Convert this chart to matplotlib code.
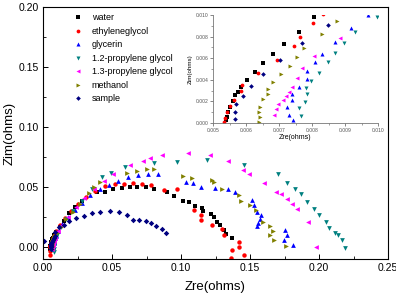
import matplotlib
matplotlib.use("Agg")
import matplotlib.pyplot as plt
from matplotlib.ticker import MultipleLocator, FormatStrFormatter

plt.rcParams['font.family'] = ['Liberation Sans', 'DejaVu Sans']

# ---------------- data (Zre, Zim in ohms) ----------------
water_x = [0.0054, 0.00540, 0.00541, 0.00544, 0.00550, 0.00560, 0.00568, 0.00577, 0.00585, 0.00602,
           0.00627, 0.00650, 0.00683, 0.00714, 0.00761, 0.00805, 0.0095, 0.012, 0.015, 0.019, 0.023,
           0.028, 0.0389, 0.0449, 0.0505, 0.057, 0.063, 0.0684, 0.0746, 0.0807, 0.0896, 0.0952, 0.1012,
           0.1058, 0.1101, 0.115, 0.1162, 0.1217, 0.1239, 0.1263, 0.1283, 0.1312, 0.1324, 0.1372]
water_y = [-0.002, 0.00025, 0.00060, 0.00103, 0.00150, 0.00200, 0.00256, 0.00290, 0.00336, 0.00398,
           0.00475, 0.00552, 0.00636, 0.00731, 0.00840, 0.00979, 0.0125, 0.017, 0.022, 0.028, 0.033,
           0.0383, 0.0456, 0.0461, 0.0481, 0.049, 0.050, 0.0503, 0.0497, 0.0481, 0.0461, 0.0425, 0.0386,
           0.0372, 0.0344, 0.0322, 0.0300, 0.0275, 0.0247, 0.0211, 0.0183, 0.0142, 0.0106, 0.0072]

eg_x = [0.0053, 0.0054, 0.00533, 0.00536, 0.00542, 0.00550, 0.00563, 0.00585, 0.00589, 0.00636, 0.00693,
        0.00746, 0.00764, 0.00803, 0.00834, 0.0095, 0.012, 0.016, 0.020, 0.025, 0.031, 0.038, 0.045,
        0.0522, 0.0587, 0.065, 0.0715, 0.0783, 0.0877, 0.0973, 0.1096, 0.1145, 0.1145, 0.1222, 0.1295,
        0.1312, 0.142, 0.1423, 0.1372, 0.1459, 0.136]
eg_y = [-0.003, -0.0065, 0.0001, 0.0005, 0.0010, 0.00157, 0.0021, 0.00299, 0.00352, 0.00466, 0.00580,
        0.00716, 0.00793, 0.00926, 0.01009, 0.013, 0.018, 0.024, 0.030, 0.036, 0.042, 0.047, 0.051,
        0.0525, 0.0528, 0.0536, 0.0522, 0.0517, 0.0475, 0.0481, 0.0308, 0.0267, 0.0225, 0.0183, 0.0147,
        0.0100, 0.0044, -0.0003, -0.0025, -0.0067, -0.0094]

gly_x = [0.0074, 0.00742, 0.00731, 0.00723, 0.00740, 0.00738, 0.00761, 0.00784, 0.00786, 0.00809, 0.00830,
         0.00870, 0.00918, 0.00968, 0.011, 0.014, 0.018, 0.023, 0.028, 0.034, 0.041, 0.048, 0.0546,
         0.0618, 0.0691, 0.0763, 0.0836, 0.1034, 0.1085, 0.1145, 0.1246, 0.1343, 0.1391, 0.1512, 0.1531,
         0.1548, 0.158, 0.1572, 0.156, 0.1553, 0.1754, 0.177, 0.1749, 0.1809]
gly_y = [-0.002, 0.00028, 0.00074, 0.00145, 0.00213, 0.00266, 0.0033, 0.0041, 0.00484, 0.00562, 0.00639,
         0.00747, 0.00877, 0.0100, 0.013, 0.019, 0.025, 0.031, 0.037, 0.043, 0.048, 0.052, 0.0553,
         0.0586, 0.0600, 0.0606, 0.0606, 0.0544, 0.0531, 0.0497, 0.0494, 0.0483, 0.0461, 0.0392, 0.0350,
         0.0294, 0.0267, 0.0233, 0.0203, 0.0175, 0.0142, 0.0100, 0.0058, 0.0017]

pg12_x = [0.0077, 0.0078, 0.00767, 0.00761, 0.00779, 0.00786, 0.00782, 0.00797, 0.00821, 0.00848, 0.00870,
          0.00897, 0.00930, 0.00996, 0.0105, 0.013, 0.017, 0.022, 0.028, 0.0353, 0.0425, 0.0493, 0.0594,
          0.0807, 0.0969, 0.1186, 0.1457, 0.1701, 0.1766, 0.1826, 0.187, 0.1911, 0.1964, 0.1996, 0.2049,
          0.2072, 0.2116, 0.2135, 0.2164, 0.2188]
pg12_y = [-0.002, -0.004, 0.00068, 0.00136, 0.00197, 0.00269, 0.00327, 0.00389, 0.00466, 0.00568, 0.00645,
          0.00738, 0.00840, 0.00979, 0.012, 0.017, 0.023, 0.030, 0.038, 0.0481, 0.0580, 0.0614, 0.0664,
          0.0697, 0.0711, 0.0725, 0.0683, 0.0608, 0.0536, 0.0481, 0.0442, 0.0378, 0.0317, 0.0267, 0.0211,
          0.0156, 0.0119, 0.0100, 0.0058, -0.0006]

pg13_x = [0.0068, 0.00685, 0.00690, 0.00696, 0.00711, 0.00721, 0.00730, 0.00738, 0.00754, 0.00771, 0.00807,
          0.00885, 0.011, 0.014, 0.018, 0.024, 0.030, 0.037, 0.044, 0.051, 0.063, 0.0727, 0.0775, 0.0865,
          0.1048, 0.121, 0.1343, 0.1452, 0.1495, 0.1601, 0.1686, 0.1722, 0.177, 0.1802, 0.1838, 0.1923,
          0.1976]
pg13_y = [-0.002, 0.00074, 0.0013, 0.00173, 0.00213, 0.0025, 0.0029, 0.0033, 0.0042, 0.00506, 0.00623,
          0.0079, 0.013, 0.018, 0.025, 0.033, 0.041, 0.048, 0.055, 0.0606, 0.0683, 0.0717, 0.0739, 0.0767,
          0.0781, 0.0767, 0.0717, 0.0642, 0.0608, 0.0531, 0.0461, 0.0439, 0.0400, 0.0356, 0.0317, 0.0211,
          -0.0003]

meth_x = [0.0064, 0.00639, 0.00642, 0.00639, 0.00642, 0.00652, 0.00666, 0.00668, 0.00683, 0.00706, 0.00733,
          0.00754, 0.00777, 0.00831, 0.00875, 0.0105, 0.013, 0.017, 0.022, 0.027, 0.033, 0.037, 0.0413,
          0.0606, 0.0679, 0.0751, 0.0804, 0.1012, 0.1078, 0.1222, 0.1239, 0.1295, 0.142, 0.1435, 0.150,
          0.1543, 0.1597, 0.1641, 0.1664, 0.1645, 0.1674, 0.1759]
meth_y = [-0.002, 0.00012, 0.00058, 0.00105, 0.00151, 0.00219, 0.00266, 0.00312, 0.00377, 0.00454, 0.00531,
          0.00608, 0.00697, 0.00821, 0.00944, 0.012, 0.017, 0.023, 0.029, 0.036, 0.045, 0.050, 0.0544,
          0.0614, 0.0636, 0.0647, 0.0647, 0.0594, 0.0578, 0.0558, 0.0539, 0.0481, 0.0433, 0.0386, 0.0350,
          0.0308, 0.0206, 0.0175, 0.0136, 0.0100, 0.0058, 0.0008]

sample_x = [0.0007, 0.0057, 0.00568, 0.00566, 0.00571, 0.00590, 0.00615, 0.00652, 0.00702, 0.00769, 0.00849,
            0.0087, 0.0118, 0.0152, 0.0191, 0.0237, 0.0295, 0.0357, 0.0413, 0.0486, 0.0551, 0.0606, 0.0652,
            0.0698, 0.0746, 0.0785, 0.0819, 0.0860, 0.0891]
sample_y = [0.005, -0.002, 0.00037, 0.00099, 0.00173, 0.00253, 0.00345, 0.00454, 0.00583, 0.00744, 0.00907,
            0.0128, 0.0164, 0.0183, 0.0219, 0.0242, 0.0261, 0.0281, 0.0289, 0.0297, 0.0292, 0.0269, 0.0222,
            0.0228, 0.0217, 0.0197, 0.0175, 0.0147, 0.0119]

labels = ['water', 'ethyleneglycol', 'glycerin', '1.2-propylene glycol',
          '1.3-propylene glycol', 'methanol', 'sample']
series = [(water_x, water_y), (eg_x, eg_y), (gly_x, gly_y), (pg12_x, pg12_y),
          (pg13_x, pg13_y), (meth_x, meth_y), (sample_x, sample_y)]
colors = ['#000000', '#FF0000', '#0000FF', '#008080', '#FF00FF', '#808000', '#000080']
markers = ['s', 'o', '^', 'v', '<', '>', 'D']
msizes = [3.0, 3.2, 3.4, 3.4, 3.4, 3.4, 2.8]

# ---------------- figure ----------------
fig = plt.figure(figsize=(3.96, 2.98), dpi=100)
ax = fig.add_axes([0.1086, 0.1309, 0.8714, 0.8456])

for (x, y), lab, c, m, s in zip(series, labels, colors, markers, msizes):
    ax.plot(x, y, linestyle='none', marker=m, color=c, markersize=s,
            markeredgewidth=0, label=lab)

ax.set_xlim(0.0, 0.25)
ax.set_ylim(-0.01, 0.20)
ax.xaxis.set_major_locator(MultipleLocator(0.05))
ax.xaxis.set_minor_locator(MultipleLocator(0.025))
ax.yaxis.set_major_locator(MultipleLocator(0.05))
ax.yaxis.set_minor_locator(MultipleLocator(0.025))
ax.xaxis.set_major_formatter(FormatStrFormatter('%.2f'))
ax.yaxis.set_major_formatter(FormatStrFormatter('%.2f'))
ax.tick_params(which='both', direction='in', labelsize=7.5, pad=3)
ax.tick_params(which='major', length=3.5, width=0.7)
ax.tick_params(which='minor', length=2, width=0.6)
for sp in ax.spines.values():
    sp.set_linewidth(0.8)
ax.set_xlabel('Zre(ohms)', fontsize=9.5, labelpad=6)
ax.set_ylabel('Zim(ohms)', fontsize=9.5, labelpad=2)

leg = ax.legend(loc='upper left', frameon=False, fontsize=6.5, handlelength=1.0,
                handletextpad=1.0, labelspacing=0.5, borderaxespad=0.3,
                bbox_to_anchor=(0.07, 1.0), markerscale=0.85)

# ---------------- inset ----------------
ins = fig.add_axes([0.538, 0.5872, 0.4167, 0.3624])
for (x, y), c, m, s in zip(series, colors, markers, msizes):
    ins.plot(x, y, linestyle='none', marker=m, color=c, markersize=s * 0.85,
             markeredgewidth=0)
ins.set_xlim(0.005, 0.010)
ins.set_ylim(0.0, 0.010)
ins.xaxis.set_major_locator(MultipleLocator(0.001))
ins.xaxis.set_minor_locator(MultipleLocator(0.0005))
ins.yaxis.set_major_locator(MultipleLocator(0.002))
ins.yaxis.set_minor_locator(MultipleLocator(0.001))
ins.xaxis.set_major_formatter(FormatStrFormatter('%.3f'))
ins.yaxis.set_major_formatter(FormatStrFormatter('%.3f'))
ins.tick_params(which='both', direction='out', labelsize=3.6, pad=1.5, colors='#555555')
ins.tick_params(which='major', length=2, width=0.5)
ins.tick_params(which='minor', length=1.2, width=0.4)
ins.spines['top'].set_visible(False)
ins.spines['right'].set_visible(False)
for sp in ('left', 'bottom'):
    ins.spines[sp].set_linewidth(0.6)
    ins.spines[sp].set_color('#777777')
ins.patch.set_alpha(0)
ins.set_xlabel('Zre(ohms)', fontsize=5, labelpad=0.5)
ins.set_ylabel('Zim(ohms)', fontsize=4.5, labelpad=2)

fig.savefig('out.png', dpi=100)
